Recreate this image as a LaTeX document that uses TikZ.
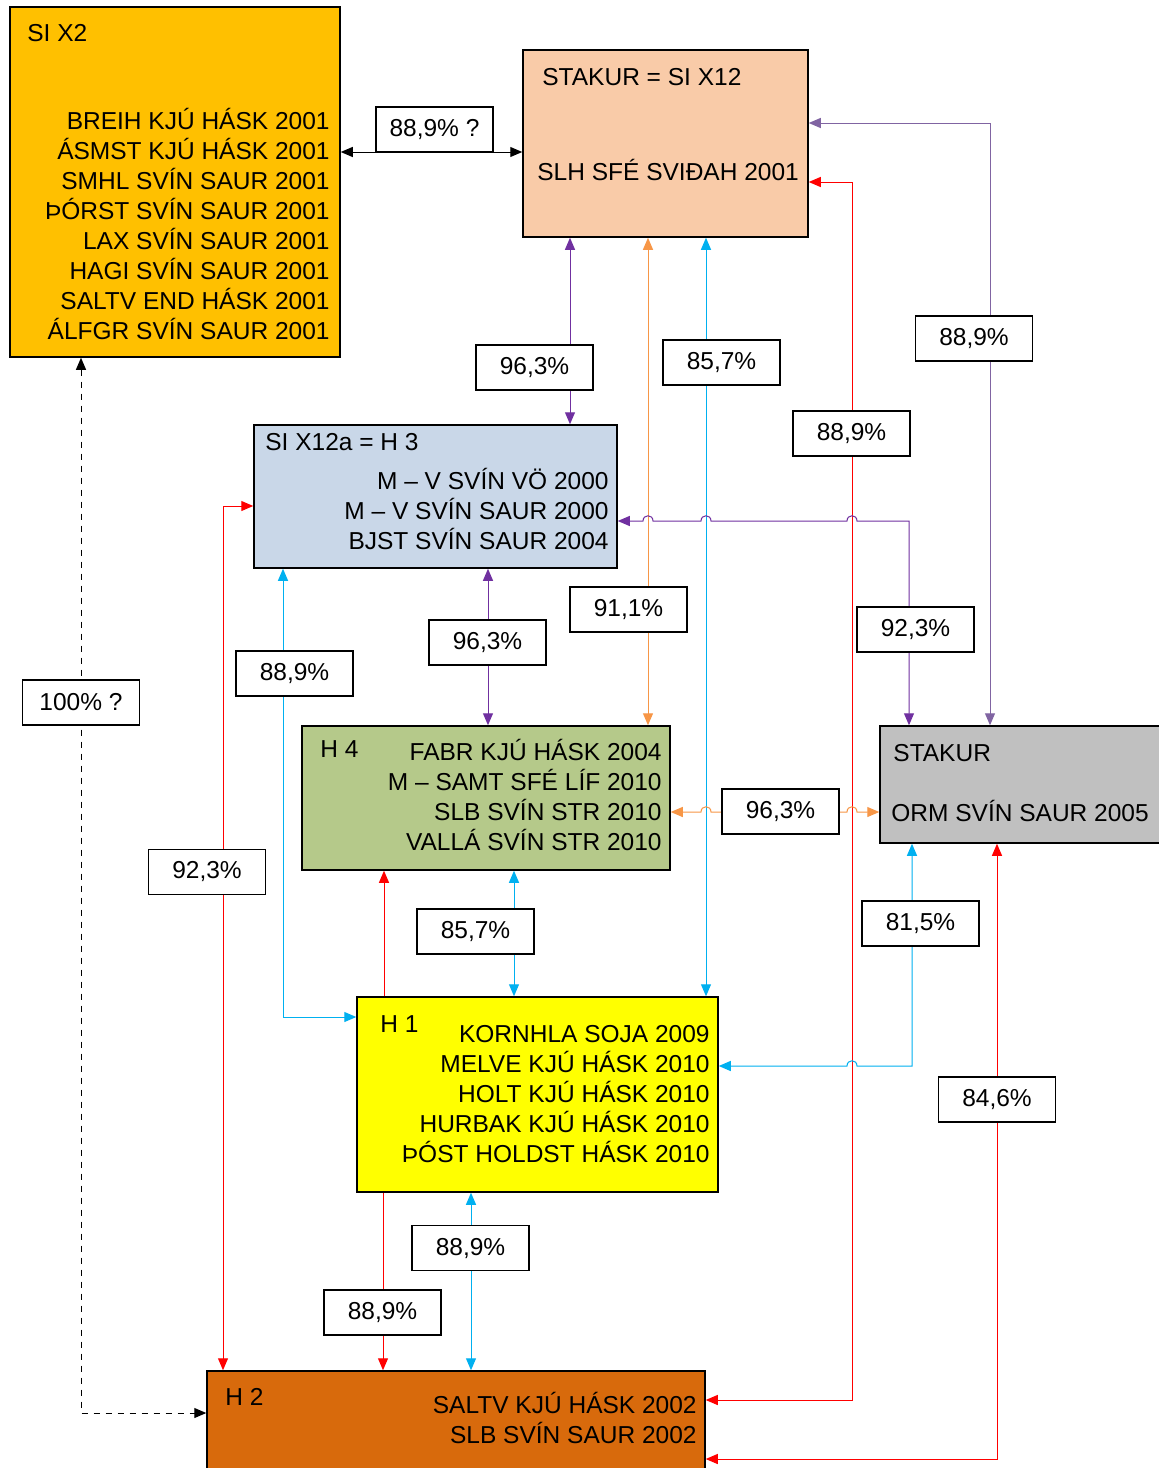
\documentclass[tikz,border=0pt]{standalone}
\usepackage{fontspec}
\setmainfont{Liberation Sans}
\usetikzlibrary{arrows.meta}
\definecolor{cSIX}{HTML}{FFC000}
\definecolor{cSTAK}{HTML}{F9CBA8}
\definecolor{cXA}{HTML}{C9D7E8}
\definecolor{cHF}{HTML}{B5C98A}
\definecolor{cGR}{HTML}{C0C0C0}
\definecolor{cHE}{HTML}{FFFF00}
\definecolor{cHT}{HTML}{D86A0C}
\definecolor{lPur}{HTML}{7030A0}
\definecolor{lLav}{HTML}{8064A2}
\definecolor{lOra}{HTML}{F79646}
\definecolor{lCya}{HTML}{00B0F0}
\definecolor{lRed}{HTML}{FF0000}
\tikzset{
  txt/.style={font=\fontsize{12.25pt}{15pt}\selectfont, inner sep=0pt, text=black},
  bigbox/.style={draw=black, line width=0.75pt, inner sep=0pt},
  lbl/.style={draw=black, fill=white, line width=0.65pt, minimum width=58.5pt, minimum height=22.5pt, inner sep=0pt, font=\fontsize{12.25pt}{15pt}\selectfont},
  conn/.style={line width=0.5pt},
  tip/.style={{Triangle[length=6pt,width=5pt]}-{Triangle[length=6pt,width=5pt]}},
  tipend/.style={-{Triangle[length=6pt,width=5pt]}}
}
\begin{document}
\begin{tikzpicture}[x=0.5pt,y=-0.5pt]
\fill[white] (0,0) rectangle (1159,1468);
\useasboundingbox (0,0) rectangle (1159,1468);

% boxes
\node[bigbox, fill=cSIX, minimum width=165pt, minimum height=175pt] (sx2) at (175,182) {};
\node[bigbox, fill=cSTAK, minimum width=142.5pt, minimum height=93.5pt] (stak) at (665.5,143.5) {};
\node[bigbox, fill=cXA, minimum width=181.5pt, minimum height=71.5pt] (xa) at (435.5,496.5) {};
\node[bigbox, fill=cHF, minimum width=184pt, minimum height=72pt] (hf) at (486,798) {};
\node[bigbox, fill=cGR, minimum width=141.5pt, minimum height=58.5pt] (gr) at (1021.5,784.5) {};
\node[bigbox, fill=cHE, minimum width=180.5pt, minimum height=97.5pt] (he) at (537.5,1094.5) {};
\node[bigbox, fill=cHT, minimum width=249pt, minimum height=49.5pt] (ht) at (456,1420.5) {};

% box texts
\node[txt, anchor=base west] (sx2t) at (27,41.8) {SI X2};
\foreach \t [count=\i] in {BREIH KJÚ HÁSK 2001, ÁSMST KJÚ HÁSK 2001, SMHL SVÍN SAUR 2001, ÞÓRST SVÍN SAUR 2001, LAX SVÍN SAUR 2001, HAGI SVÍN SAUR 2001, SALTV END HÁSK 2001, ÁLFGR SVÍN SAUR 2001}
  \node[txt, anchor=base east] (sx2l\i) at (330,{129.8+29.9*(\i-1)}) {\t};

\node[txt, anchor=base west] (stakt) at (542,85.8) {STAKUR = SI X12};
\node[txt, anchor=base west] (stakl) at (537,180.8) {SLH SFÉ SVIÐAH 2001};

\node[txt, anchor=base west] (xat) at (265,450.8) {SI X12a = H 3};
\foreach \t [count=\i] in {M – V SVÍN VÖ 2000, M – V SVÍN SAUR 2000, BJST SVÍN SAUR 2004}
  \node[txt, anchor=base east] (xal\i) at (609,{489.8+30*(\i-1)}) {\t};

\node[txt, anchor=base west] (hft) at (320,757.8) {H 4};
\foreach \t [count=\i] in {FABR KJÚ HÁSK 2004, M – SAMT SFÉ LÍF 2010, SLB SVÍN STR 2010, VALLÁ SVÍN STR 2010}
  \node[txt, anchor=base east] (hfl\i) at (662,{760.8+30*(\i-1)}) {\t};

\node[txt, anchor=base west] (grt) at (893,761.8) {STAKUR};
\node[txt, anchor=base west] (grl) at (891,821.8) {ORM SVÍN SAUR 2005};

\node[txt, anchor=base west] (het) at (380,1032.8) {H 1};
\foreach \t [count=\i] in {KORNHLA SOJA 2009, MELVE KJÚ HÁSK 2010, HOLT KJÚ HÁSK 2010, HURBAK KJÚ HÁSK 2010, ÞÓST HOLDST HÁSK 2010}
  \node[txt, anchor=base east] (hel\i) at (710,{1042.8+29.8*(\i-1)}) {\t};

\node[txt, anchor=base west] (htt) at (225,1405.8) {H 2};
\foreach \t [count=\i] in {SALTV KJÚ HÁSK 2002, SLB SVÍN SAUR 2002}
  \node[txt, anchor=base east] (htl\i) at (697,{1413.8+30*(\i-1)}) {\t};

% connectors
\draw[conn, tip, black] (sx2.east |- 0,152) -- (stak.west |- 0,152);
\draw[conn, tip, black, dashed] (sx2.south -| 81,0) |- (ht.west |- 0,1413);
\draw[conn, tip, lPur] (stak.south -| 570,0) -- (xa.north -| 570,0);
\draw[conn, tip, lOra] (stak.south -| 648,0) -- (hf.north -| 648,0);
\draw[conn, tip, lCya] (stak.south -| 706,0) -- (he.north -| 706,0);
\draw[conn, tip, lLav] (stak.east |- 0,123) -| (gr.north -| 990,0);
\draw[conn, tip, lRed] (stak.east |- 0,182) -| (852,1400) -- (ht.east |- 0,1400);
\draw[conn, tip, lPur] (xa.east |- 0,521) -- (643,521) .. controls (643,514) and (653,514) .. (653,521)
   -- (701,521) .. controls (701,514) and (711,514) .. (711,521)
   -- (847,521) .. controls (847,514) and (857,514) .. (857,521) -| (gr.north -| 909,0);
\draw[conn, tip, lPur] (xa.south -| 488,0) -- (hf.north -| 488,0);
\draw[conn, tip, lCya] (xa.south -| 283,0) |- (he.west |- 0,1017);
\draw[conn, tip, lRed] (xa.west |- 0,506) -| (ht.north -| 223,0);
\draw[conn, tip, lOra] (hf.east |- 0,812) -- (701,812) .. controls (701,805) and (711,805) .. (711,812)
   -- (847,812) .. controls (847,805) and (857,805) .. (857,812) -- (gr.west |- 0,812);
\draw[conn, tip, lCya] (hf.south -| 514,0) -- (he.north -| 514,0);
\draw[conn, tipend, lRed] (he.north -| 384,0) -- (hf.south -| 384,0);
\draw[conn, tipend, lRed] (he.south -| 383,0) -- (ht.north -| 383,0);
\draw[conn, tip, lCya] (he.south -| 471,0) -- (ht.north -| 471,0);
\draw[conn, tip, lCya] (gr.south -| 912,0) |- (857,1066) .. controls (857,1059) and (847,1059) .. (847,1066) -- (he.east |- 0,1066);
\draw[conn, tip, lRed] (gr.south -| 997,0) |- (ht.east |- 0,1459);

% labels
\node[lbl] (l1) at (434.5,129.5) {88,9\% ?};
\node[lbl] (l2) at (534.5,367.5) {96,3\%};
\node[lbl] (l3) at (721.5,362.5) {85,7\%};
\node[lbl] (l4) at (974,338.5) {88,9\%};
\node[lbl] (l5) at (851.5,433.5) {88,9\%};
\node[lbl] (l6) at (628.5,609.5) {91,1\%};
\node[lbl] (l7) at (915.5,629.5) {92,3\%};
\node[lbl] (l8) at (487.5,642.5) {96,3\%};
\node[lbl] (l9) at (294.5,673.5) {88,9\%};
\node[lbl] (l10) at (81,702.5) {100\% ?};
\node[lbl] (l11) at (780.5,811.5) {96,3\%};
\node[lbl] (l12) at (207,872) {92,3\%};
\node[lbl] (l13) at (475.5,931.5) {85,7\%};
\node[lbl] (l14) at (920.5,923.5) {81,5\%};
\node[lbl] (l15) at (997,1099.5) {84,6\%};
\node[lbl] (l16) at (470.5,1248) {88,9\%};
\node[lbl] (l17) at (382.5,1312.5) {88,9\%};
\end{tikzpicture}
\end{document}
